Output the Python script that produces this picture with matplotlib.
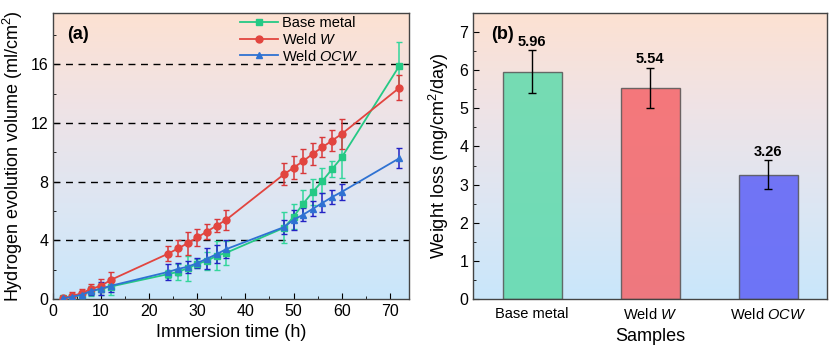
import numpy as np
import matplotlib
matplotlib.use("Agg")
import matplotlib.pyplot as plt
from matplotlib.colors import LinearSegmentedColormap
from matplotlib.lines import Line2D
from matplotlib.ticker import MultipleLocator

plt.rcParams["font.family"] = ["Liberation Sans", "DejaVu Sans"]
plt.rcParams["mathtext.fontset"] = "custom"
plt.rcParams["mathtext.rm"] = "Liberation Sans"
plt.rcParams["mathtext.it"] = "Liberation Sans:italic"

# ===== データ =====
time_h = [2, 4, 6, 8, 10, 12, 24, 26, 28, 30, 32, 34, 36,
          48, 50, 52, 54, 56, 58, 60, 72]
base_vol = [0.05, 0.15, 0.3, 0.55, 0.7, 0.85, 1.7, 1.85, 2.1, 2.4, 2.6, 2.95, 3.15,
            4.85, 5.6, 6.5, 7.3, 8.05, 8.85, 9.65, 15.9]
base_err = [0.1, 0.15, 0.2, 0.35, 0.4, 0.55, 0.3, 0.55, 0.85, 0.3, 0.6, 1.0, 0.8,
            1.05, 0.85, 0.9, 0.9, 0.85, 0.55, 1.4, 1.6]
weldw_vol = [0.05, 0.2, 0.4, 0.7, 0.9, 1.3, 3.1, 3.45, 3.8, 4.2, 4.6, 5.0, 5.4,
             8.5, 8.95, 9.4, 9.9, 10.35, 10.8, 11.25, 14.4]
weldw_err = [0.1, 0.25, 0.3, 0.35, 0.45, 0.55, 0.5, 0.55, 0.8, 0.6, 0.5, 0.45, 0.7,
             0.75, 0.8, 0.8, 0.75, 0.7, 0.7, 1.0, 0.85]
ocw_vol = [0.05, 0.15, 0.3, 0.55, 0.7, 0.9, 1.85, 2.05, 2.2, 2.45, 2.75, 3.05, 3.4,
           4.9, 5.4, 5.75, 6.15, 6.55, 6.95, 7.3, 9.6]
ocw_err = [0.1, 0.15, 0.2, 0.3, 0.45, 0.45, 0.55, 0.4, 0.4, 0.35, 0.7, 0.6, 0.6,
           0.5, 0.7, 0.45, 0.5, 0.65, 0.45, 0.55, 0.7]

samples = ["Base metal", r"Weld $\it{W}$", r"Weld $\it{OCW}$"]
weight_loss = [5.96, 5.54, 3.26]
weight_err = [0.56, 0.52, 0.38]

bg_cmap = LinearSegmentedColormap.from_list(
    "bg", ["#c9e7fb", "#dde6f3", "#efe3e6", "#fde1d2"])


def add_gradient(ax):
    grad = np.linspace(0, 1, 256).reshape(-1, 1)
    ax.imshow(grad, cmap=bg_cmap, origin="lower", aspect="auto",
              extent=[0, 1, 0, 1], transform=ax.transAxes, zorder=0)


fig = plt.figure(figsize=(8.3, 3.55), dpi=100)
ax1 = fig.add_axes([53 / 830, 56 / 355, 356 / 830, 286 / 355])
ax2 = fig.add_axes([473 / 830, 56 / 355, 354 / 830, 286 / 355])

# ===== (a) 水素発生量 =====
add_gradient(ax1)
for y in [4, 8, 12, 16]:
    ax1.axhline(y, color="black", ls=(0, (5, 4)), lw=1.0, zorder=1)

series = [
    (base_vol, base_err, "#25c985", "#33d69c", "s", "Base metal"),
    (weldw_vol, weldw_err, "#e2453f", "#d8383a", "o", r"Weld $\it{W}$"),
    (ocw_vol, ocw_err, "#2f72d2", "#2222c4", "^", r"Weld $\it{OCW}$"),
]
handles = []
for vals, errs, c, ec, m, lab in series:
    ax1.errorbar(time_h, vals, yerr=errs, color=c, ecolor=ec, marker=m,
                 ms=5, lw=1.3, elinewidth=1.1, capsize=2, capthick=1.0,
                 zorder=3)
    handles.append(Line2D([], [], color=c, marker=m, ms=5, lw=1.3, label=lab))

ax1.set_xlim(0, 74)
ax1.set_ylim(0, 19.5)
ax1.xaxis.set_major_locator(MultipleLocator(10))
ax1.xaxis.set_minor_locator(MultipleLocator(5))
ax1.yaxis.set_major_locator(MultipleLocator(4))
ax1.yaxis.set_minor_locator(MultipleLocator(2))
ax1.set_xlabel("Immersion time (h)", fontsize=13)
ax1.set_ylabel(r"Hydrogen evolution volume (ml/cm$^2$)", fontsize=13, labelpad=4)
ax1.text(0.04, 0.955, "(a)", transform=ax1.transAxes, fontsize=13,
         fontweight="bold", va="top")
ax1.legend(handles=handles, loc="upper left", bbox_to_anchor=(0.5, 1.02),
           frameon=False, fontsize=10.5, handlelength=2.6, handletextpad=0.3,
           labelspacing=0.12, borderaxespad=0.2)

# ===== (b) 重量減少 =====
add_gradient(ax2)
x = np.arange(len(samples))
bar_colors = ["#5fdaab", "#f56569", "#5d60f6"]
ax2.bar(x, weight_loss, width=0.5, color=bar_colors, alpha=0.85,
        edgecolor="#555555", linewidth=1.0, zorder=2)
ax2.errorbar(x, weight_loss, yerr=weight_err, fmt="none", ecolor="black",
             elinewidth=1.0, capsize=3, capthick=1.0, zorder=3)
for xi, v, e in zip(x, weight_loss, weight_err):
    ax2.text(xi, v + e + 0.04, f"{v:.2f}", ha="center", va="bottom",
             fontsize=10.5, fontweight="bold")

ax2.set_xlim(-0.5, 2.5)
ax2.set_ylim(0, 7.5)
ax2.set_xticks(x)
ax2.set_xticklabels(samples)
ax2.yaxis.set_major_locator(MultipleLocator(1))
ax2.yaxis.set_minor_locator(MultipleLocator(0.5))
ax2.set_xlabel("Samples", fontsize=13)
ax2.set_ylabel(r"Weight loss (mg/cm$^2$/day)", fontsize=13, labelpad=6)
ax2.text(0.05, 0.955, "(b)", transform=ax2.transAxes, fontsize=13,
         fontweight="bold", va="top")

for ax in (ax1, ax2):
    ax.tick_params(which="both", direction="in", labelsize=11.5)
    ax.tick_params(which="major", length=4)
    ax.tick_params(which="minor", length=2)
    for s in ax.spines.values():
        s.set_color("#444444")
        s.set_linewidth(1.0)
ax2.tick_params(axis="x", which="both", length=0, pad=6, labelsize=10.5)

fig.savefig("out.png", dpi=100)
